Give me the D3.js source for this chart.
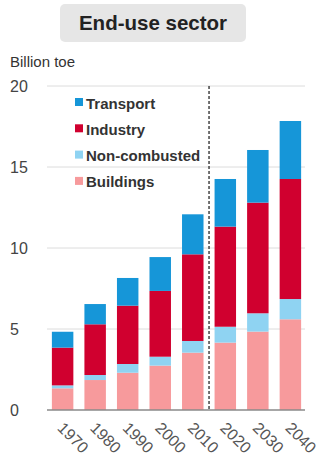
<!DOCTYPE html>
<html><head><meta charset="utf-8">
<script src="https://cdn.jsdelivr.net/npm/d3@7"></script>
<style>
body{margin:0;background:#fff;}
text{font-family:"Liberation Sans",Arial,Helvetica,sans-serif;}
</style></head>
<body><svg id="c" width="321" height="469"></svg>
<script>
const years = ["1970","1980","1990","2000","2010","2020","2030","2040"];
const buildings = [1.34,1.85,2.30,2.74,3.54,4.16,4.84,5.60];
const nonCombusted = [0.18,0.31,0.54,0.55,0.72,0.98,1.13,1.25];
const industry = [2.33,3.13,3.60,4.06,5.35,6.18,6.83,7.41];
const transport = [0.98,1.25,1.71,2.09,2.47,2.94,3.25,3.58];
const yTicks = [0,5,10,15,20];
const seriesNames = ["Buildings","Non-combusted","Industry","Transport"];
const colors = {"Buildings":"#f79a9c","Non-combusted":"#8fd3f2","Industry":"#d0002f","Transport":"#1696d8"};
const legendOrder = ["Transport","Industry","Non-combusted","Buildings"];

const svg = d3.select("#c");
const x = d3.scaleBand().domain(years).range([47,306]).paddingInner(0.34).paddingOuter(0.15);
const y = d3.scaleLinear().domain([0,20]).range([410,86]);

// title box
svg.append("rect").attr("x",60).attr("y",4).attr("width",186).attr("height",38).attr("rx",5).attr("fill","#e6e6e6");
svg.append("text").attr("x",153).attr("y",30).attr("text-anchor","middle").attr("font-size",20.5).attr("font-weight","bold").attr("fill","#222").text("End-use sector");
svg.append("text").attr("x",10).attr("y",67).attr("font-size",15).attr("fill","#333").text("Billion toe");

// gridlines
svg.append("g").selectAll("line").data(yTicks.filter(d=>d>0)).join("line")
  .attr("x1",47).attr("x2",305).attr("y1",d=>y(d)).attr("y2",d=>y(d))
  .attr("stroke","#dcdcdc").attr("stroke-width",1);
svg.append("g").selectAll("text").data(yTicks).join("text")
  .attr("x",10).attr("y",d=>y(d)+6).attr("font-size",16).attr("fill","#444").text(d=>d);

// stacked bars
const rows = years.map((yr,i)=>({year:yr,"Buildings":buildings[i],"Non-combusted":nonCombusted[i],"Industry":industry[i],"Transport":transport[i]}));
const stack = d3.stack().keys(seriesNames)(rows);
svg.append("g").selectAll("g").data(stack).join("g").attr("fill",d=>colors[d.key])
  .selectAll("rect").data(d=>d).join("rect")
  .attr("x",d=>x(d.data.year)).attr("width",x.bandwidth())
  .attr("y",d=>y(d[1])).attr("height",d=>y(d[0])-y(d[1]));

// baseline
svg.append("line").attr("x1",47).attr("x2",305).attr("y1",y(0)).attr("y2",y(0)).attr("stroke","#8a8a8a").attr("stroke-width",1.5);

// dashed divider
const dx = (x("2010")+x.bandwidth()+x("2020"))/2;
svg.append("line").attr("x1",dx).attr("x2",dx).attr("y1",y(20)).attr("y2",y(0))
  .attr("stroke","#444").attr("stroke-width",1.5).attr("stroke-dasharray","3,2");

// x labels
svg.append("g").selectAll("text").data(years).join("text")
  .attr("transform",d=>`translate(${x(d)+x.bandwidth()/2-6},${y(0)+19}) rotate(45)`)
  .attr("font-size",16).attr("fill","#555").text(d=>d);

// legend
const lg = svg.append("g").selectAll("g").data(legendOrder).join("g")
  .attr("transform",(d,i)=>`translate(75,${103+i*26.3})`);
lg.append("rect").attr("x",0).attr("y",-5).attr("width",8).attr("height",8).attr("fill",d=>colors[d]);
lg.append("text").attr("x",11).attr("y",5.5).attr("font-size",15).attr("font-weight","bold").attr("fill","#333").text(d=>d);
</script></body></html>
